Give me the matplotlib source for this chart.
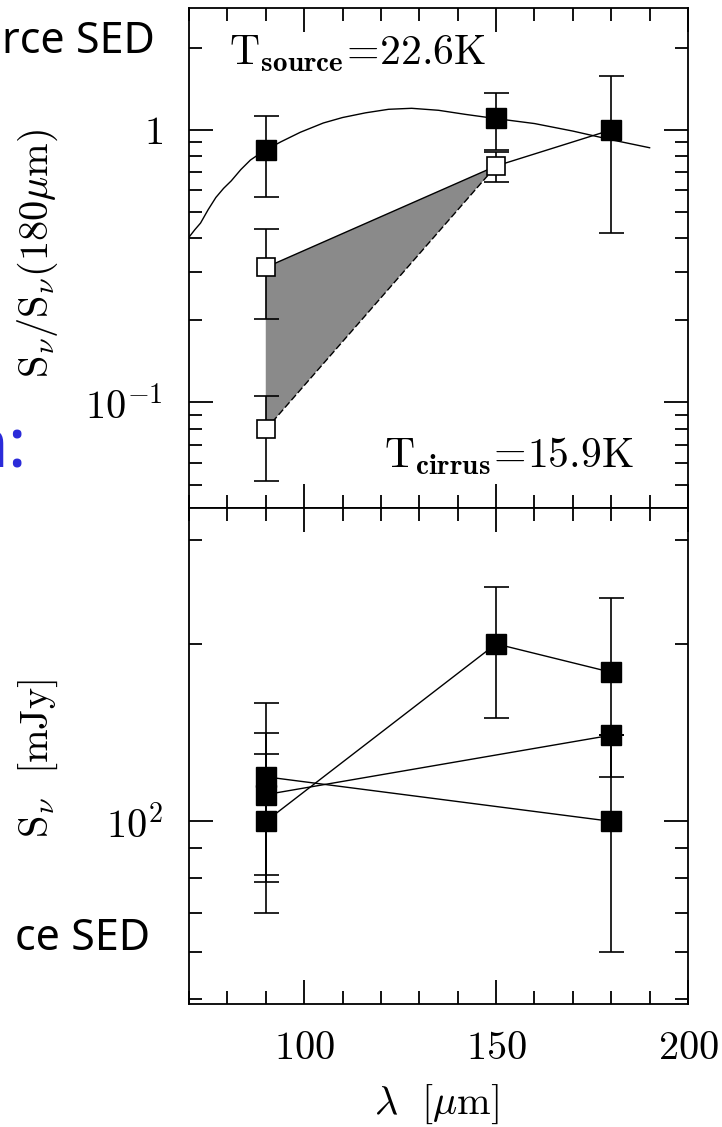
import matplotlib.pyplot as plt
from matplotlib.ticker import FixedLocator, FixedFormatter, NullFormatter

plt.rcParams["mathtext.fontset"] = "cm"
plt.rcParams["font.family"] = ["DejaVu Serif"]

W, H = 722, 1127

# upper panel: S_nu / S_nu(180um)
band_wave = [90, 150, 180]
src_ratio = [0.844, 1.107, 1.0]
src_lo = [0.567, 0.847, 0.42]
src_hi = [1.126, 1.368, 1.58]

cirrus_wave = [90, 90, 150]
cirrus_ratio = [0.313, 0.0796, 0.737]
cirrus_lo = [0.203, 0.0517, 0.644]
cirrus_hi = [0.433, 0.106, 0.830]

# T=22.6K source curve, sampled along the drawn line
model_wave = [70, 71.5, 73, 75, 77, 79, 81, 83.5, 86, 88, 90, 94, 99, 105,
              110, 116, 122, 128, 135, 142, 150, 160, 170, 180, 190]
model_ratio = [0.404, 0.43, 0.455, 0.51, 0.565, 0.61, 0.65, 0.715, 0.775,
               0.81, 0.845, 0.905, 0.98, 1.06, 1.11, 1.155, 1.19, 1.20,
               1.18, 1.14, 1.10, 1.055, 0.99, 0.92, 0.86]

# lower panel: S_nu in mJy
flux_a_wave = [90, 180]
flux_a = [119, 100]
flux_a_lo = [79, 60]
flux_a_hi = [159, 140]

flux_b_wave = [90, 180]
flux_b = [111, 140]
flux_b_lo = [81, 140]
flux_b_hi = [141, 140]

flux_c_wave = [90, 150, 180]
flux_c = [100, 200, 179]
flux_c_lo = [70, 150, 119]
flux_c_hi = [130, 250, 239]

x_major = [100, 150, 200]
x_minor = list(range(70, 201, 10))
top_major = [0.1, 1.0]
top_minor = [0.05, 0.06, 0.07, 0.08, 0.09, 0.2, 0.3, 0.4, 0.5, 0.6, 0.7, 0.8, 0.9, 2.0]
bot_major = [100]
bot_minor = [50, 60, 70, 80, 90, 200, 300]

FS = 29


def px_box(left, top, right, bottom):
    return [left / W, 1 - bottom / H, (right - left) / W, (bottom - top) / H]


def err(vals, lo, hi):
    return [[v - l for v, l in zip(vals, lo)], [h - v for v, h in zip(vals, hi)]]


def style_axes(ax):
    for sp in ax.spines.values():
        sp.set_linewidth(1.3)
    ax.tick_params(which="both", direction="in", top=True, right=True,
                   width=1.3, labelsize=FS, pad=19)
    ax.tick_params(which="major", length=17)
    ax.tick_params(which="minor", length=9.5)
    ax.xaxis.set_major_locator(FixedLocator(x_major))
    ax.xaxis.set_minor_locator(FixedLocator(x_minor))
    ax.set_xlim(70, 200)


fig = plt.figure(figsize=(W / 100, H / 100), dpi=100)
ax1 = fig.add_axes(px_box(189, 8, 688, 508))
ax2 = fig.add_axes(px_box(189, 508, 688, 1004))

# ---- upper panel
ax1.set_yscale("log")
ax1.set_ylim(0.041, 2.8)
style_axes(ax1)
ax1.xaxis.set_major_formatter(NullFormatter())
ax1.yaxis.set_major_locator(FixedLocator(top_major))
ax1.yaxis.set_major_formatter(FixedFormatter([r"$10^{-1}$", r"$1$"]))
ax1.yaxis.set_minor_locator(FixedLocator(top_minor))
ax1.yaxis.set_minor_formatter(NullFormatter())

ax1.fill([cirrus_wave[0], cirrus_wave[2], cirrus_wave[1]],
         [cirrus_ratio[0], cirrus_ratio[2], cirrus_ratio[1]],
         color="#8a8a8a", lw=0, zorder=1)
ax1.plot([cirrus_wave[0], cirrus_wave[2], band_wave[2]],
         [cirrus_ratio[0], cirrus_ratio[2], src_ratio[2]],
         color="black", lw=1.0, zorder=2)
ax1.plot([cirrus_wave[1], cirrus_wave[2]], [cirrus_ratio[1], cirrus_ratio[2]],
         color="black", lw=1.0, ls=(0, (5, 2)), zorder=2)
ax1.plot(model_wave, model_ratio, color="black", lw=1.0, zorder=2)

ax1.errorbar(cirrus_wave, cirrus_ratio, yerr=err(cirrus_ratio, cirrus_lo, cirrus_hi),
             fmt="s", ms=13, mfc="white", mec="black", mew=1.2, ecolor="black",
             elinewidth=1.2, capsize=9, capthick=1.2, zorder=3)
ax1.errorbar(band_wave, src_ratio, yerr=err(src_ratio, src_lo, src_hi),
             fmt="s", ms=14.5, mfc="black", mec="black", ecolor="black",
             elinewidth=1.2, capsize=9, capthick=1.2, zorder=4)

ax1.text(0.080, 0.886, r"$\mathrm{T}_{\mathbf{source}}\!=\!22.6\mathrm{K}$",
         transform=ax1.transAxes, fontsize=30, va="baseline", ha="left")
ax1.text(0.390, 0.08, r"$\mathrm{T}_{\mathbf{cirrus}}\!=\!15.9\mathrm{K}$",
         transform=ax1.transAxes, fontsize=30, va="baseline", ha="left")
ax1.set_ylabel(r"$\mathrm{S}_\nu/\mathrm{S}_\nu(180\mu\mathrm{m})$", fontsize=FS)
ax1.yaxis.set_label_coords(-0.258, 0.51)

# ---- lower panel
ax2.set_yscale("log")
ax2.set_ylim(49, 340)
style_axes(ax2)
ax2.xaxis.set_major_formatter(FixedFormatter([r"$100$", r"$150$", r"$200$"]))
ax2.yaxis.set_major_locator(FixedLocator(bot_major))
ax2.yaxis.set_major_formatter(FixedFormatter([r"$10^2$"]))
ax2.yaxis.set_minor_locator(FixedLocator(bot_minor))
ax2.yaxis.set_minor_formatter(NullFormatter())

for wv, fl, lo, hi in [(flux_a_wave, flux_a, flux_a_lo, flux_a_hi),
                       (flux_b_wave, flux_b, flux_b_lo, flux_b_hi),
                       (flux_c_wave, flux_c, flux_c_lo, flux_c_hi)]:
    ax2.plot(wv, fl, color="black", lw=1.0, zorder=2)
    ax2.errorbar(wv, fl, yerr=err(fl, lo, hi), fmt="s", ms=15, mfc="black",
                 mec="black", ecolor="black", elinewidth=1.2, capsize=9,
                 capthick=1.2, zorder=3)

ax2.set_ylabel(r"$\mathrm{S}_\nu\ \ [\mathrm{mJy}]$", fontsize=FS)
ax2.yaxis.set_label_coords(-0.258, 0.496)
ax2.set_xlabel(r"$\lambda\ \ [\mu\mathrm{m}]$", fontsize=FS)
ax2.xaxis.set_label_coords(0.495, -0.158)

# slide text around the figure
fig.text(155 / W, 1 - 53 / H, "rce SED", fontsize=31, family=["Noto Sans"],
         ha="right", va="baseline", color="black")
fig.text(27 / W, 1 - 467 / H, "n:", fontsize=50, family=["Noto Sans"],
         ha="right", va="baseline", color="#2b2bd9")
fig.text(150 / W, 1 - 950 / H, "ce SED", fontsize=31, family=["Noto Sans"],
         ha="right", va="baseline", color="black")

fig.savefig("out.png", dpi=100)
